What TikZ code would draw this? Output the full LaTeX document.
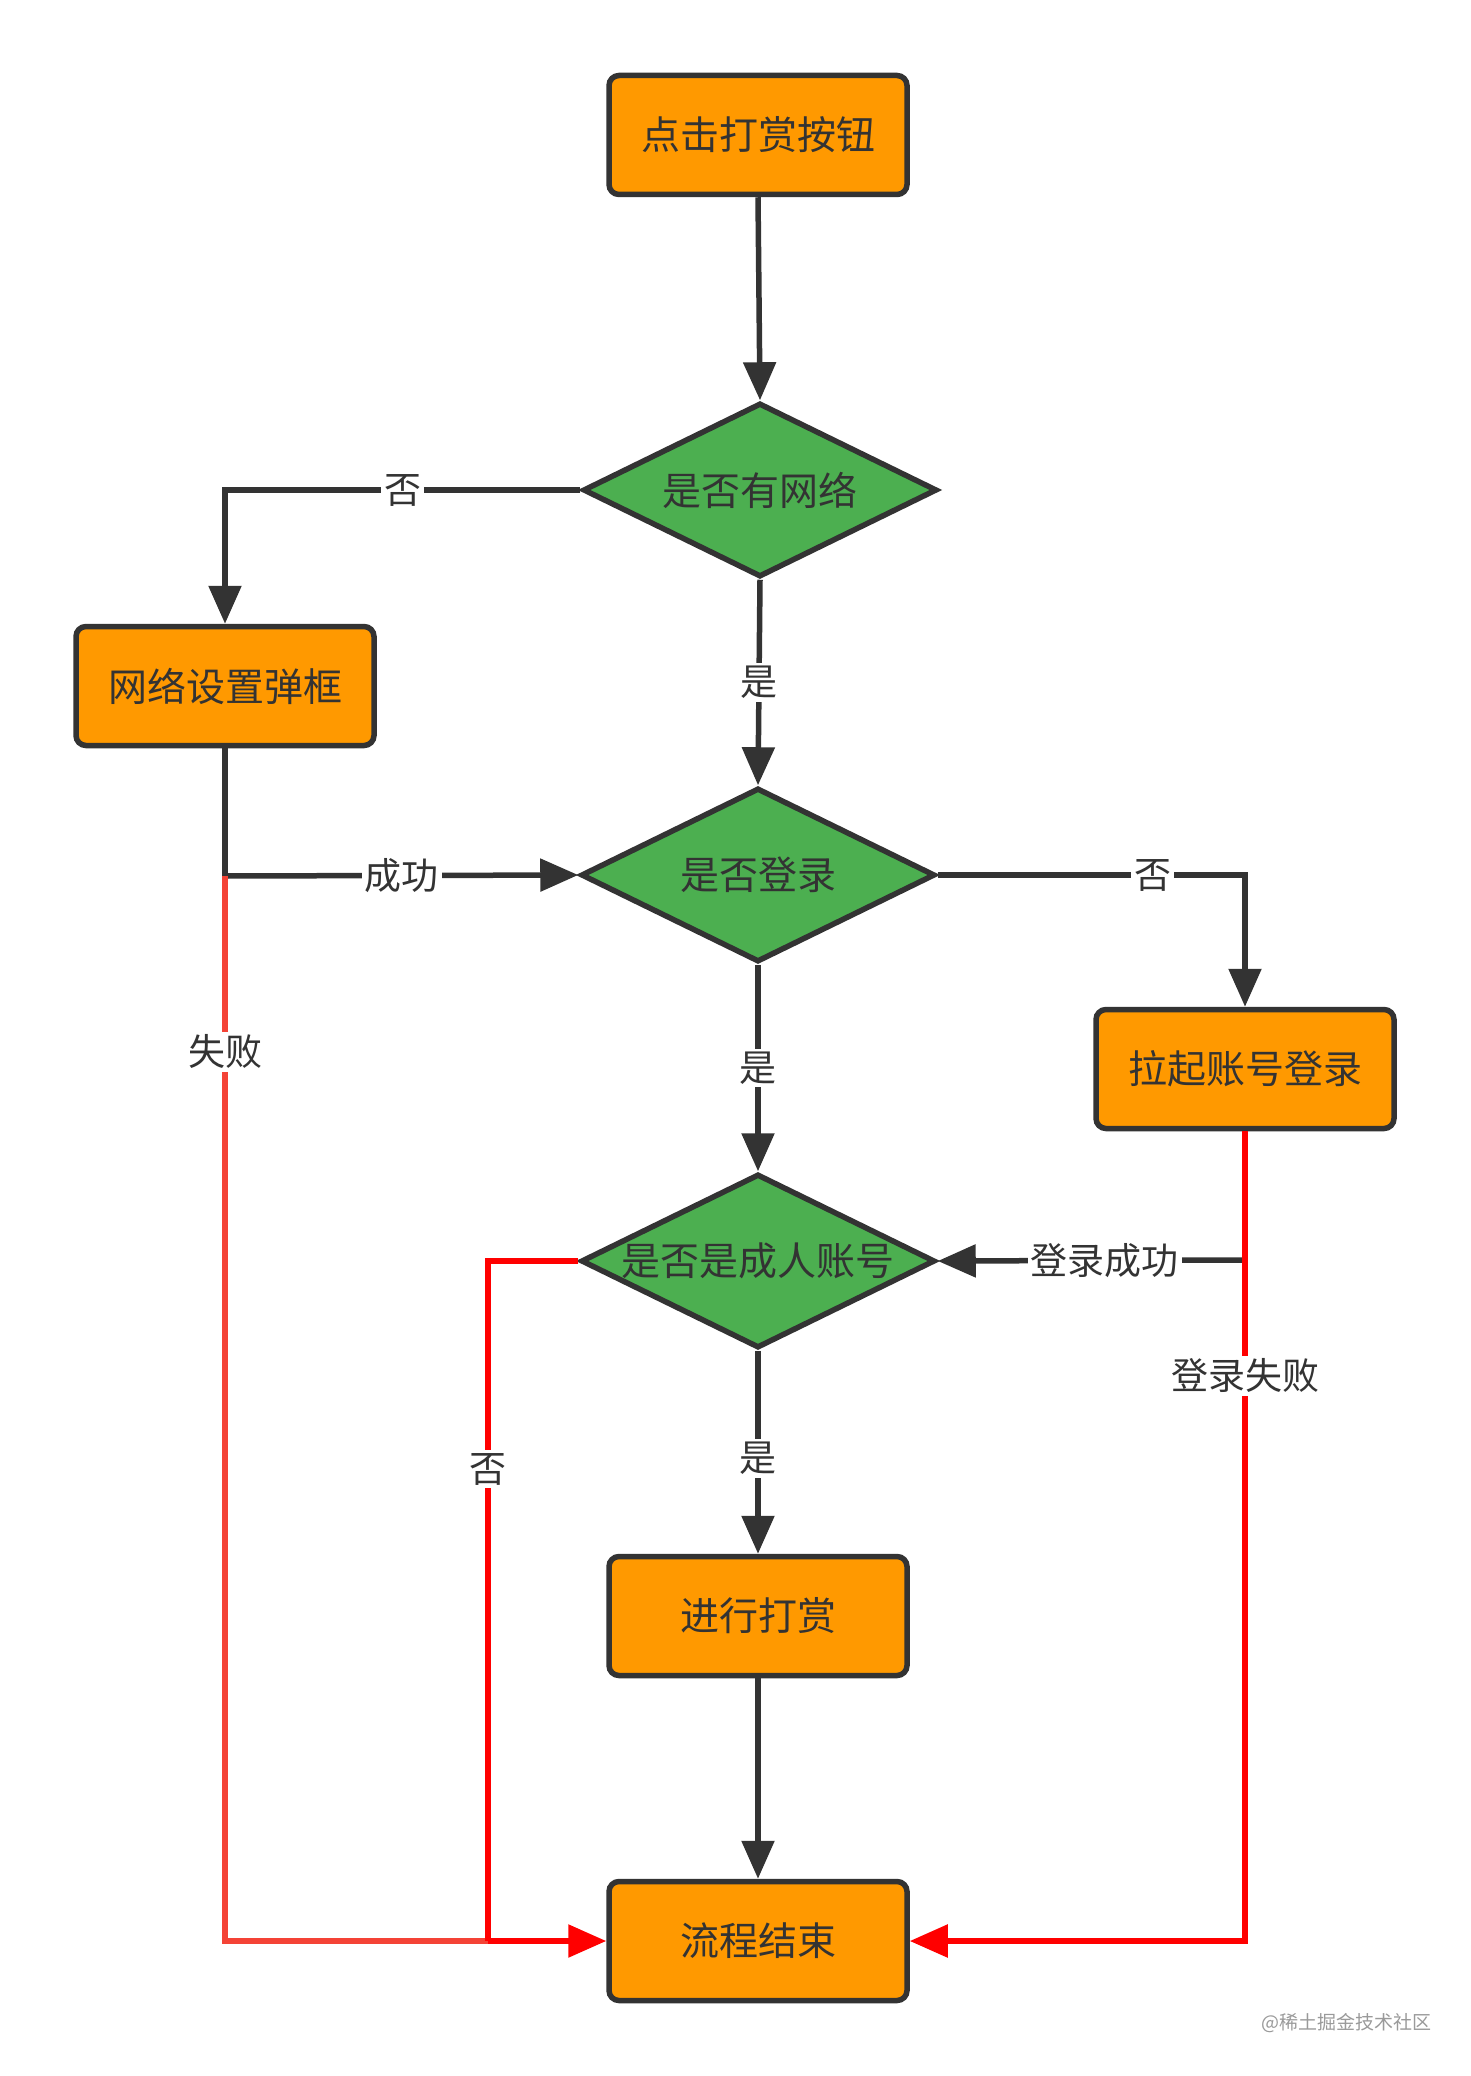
\documentclass[tikz,border=0pt]{standalone}
\usepackage{fontspec}
\setmainfont{Noto Sans CJK SC}
\usetikzlibrary{shapes.geometric,arrows.meta}
\definecolor{ink}{HTML}{333333}
\definecolor{boxor}{HTML}{FF9900}
\definecolor{dgreen}{HTML}{4CAF50}
\definecolor{redA}{HTML}{FF0000}
\definecolor{redB}{HTML}{F44336}
\definecolor{wmgray}{HTML}{9A9A9A}
\begin{document}
\begin{tikzpicture}[x=1pt,y=-1pt,
  proc/.style={rectangle, rounded corners=10pt, draw=ink, line width=5.5pt, fill=boxor,
    minimum width=298pt, minimum height=119pt, text=ink, inner sep=0pt,
    font=\fontsize{39}{39}\selectfont},
  dec/.style={diamond, shape aspect=2, draw=ink, line width=5.5pt, fill=dgreen, minimum width=354pt,
    minimum height=174pt, text=ink, inner sep=0pt, font=\fontsize{39}{39}\selectfont},
  flow/.style={draw=ink, line width=5.5pt},
  redflow/.style={draw=redA, line width=5.5pt},
  redflowB/.style={draw=redB, line width=5.5pt},
  arr/.style={-{Triangle[length=38pt,width=32pt]}},
  lbl/.style={fill=white, text=ink, inner sep=3pt, font=\fontsize{37}{37}\selectfont},
]
\useasboundingbox (0,0) rectangle (1470,2076);
\fill[white] (0,0) rectangle (1470,2076);

% nodes
\node[proc] (b1) at (758,135) {点击打赏按钮};
\node[dec]  (d1) at (760,490) {是否有网络};
\node[proc] (b2) at (225,686) {网络设置弹框};
\node[dec]  (d2) at (758,875) {是否登录};
\node[proc] (b3) at (1245,1069) {拉起账号登录};
\node[dec]  (d3) at (758,1261) {是否是成人账号};
\node[proc] (b4) at (758,1616) {进行打赏};
\node[proc] (b5) at (758,1941) {流程结束};

% junction coordinates
\coordinate (jl) at (225,876);
\coordinate (cbl) at (225,1941);
\coordinate (jb) at (488,1941);
\coordinate (jr) at (1245,1260);
\coordinate (cbr) at (1245,1941);

% black connectors
\draw[flow,arr] (b1.south) -- (d1.north);
\draw[flow,arr] (d1.west) -| node[lbl,pos=0.25]{否} (b2.north);
\draw[flow,arr] (d1.south) -- node[lbl]{是} (d2.north);
\draw[flow] (b2.south) -- (jl);
\draw[flow,arr] (jl) -- node[lbl]{成功} (d2.west);
\draw[flow,arr] (d2.east) -| node[lbl,pos=0.35]{否} (b3.north);
\draw[flow,arr] (d2.south) -- node[lbl]{是} (d3.north);
\draw[flow,arr] (jr) -- node[lbl,pos=0.457]{登录成功} (d3.east);
\draw[flow,arr] (d3.south) -- node[lbl,pos=0.53]{是} (b4.north);
\draw[flow,arr] (b4.south) -- (b5.north);

% red connectors
\draw[redflowB] (jl) -- node[lbl,pos=0.165]{失败} (cbl) -- (jb);
\draw[redflow] (d3.west) -| node[lbl,pos=0.653]{否} (jb);
\draw[redflow,arr] (jb) -- (b5.west);
\draw[redflow] (b3.south) -- (jr);
\draw[redflow,arr] (jr) -- node[lbl,pos=0.17]{登录失败} (cbr) -- (b5.east);

% watermark
\node[text=wmgray, font=\fontsize{19}{19}\selectfont, inner sep=0pt] (wm) at (1346,2023) {@稀土掘金技术社区};
\end{tikzpicture}
\end{document}
